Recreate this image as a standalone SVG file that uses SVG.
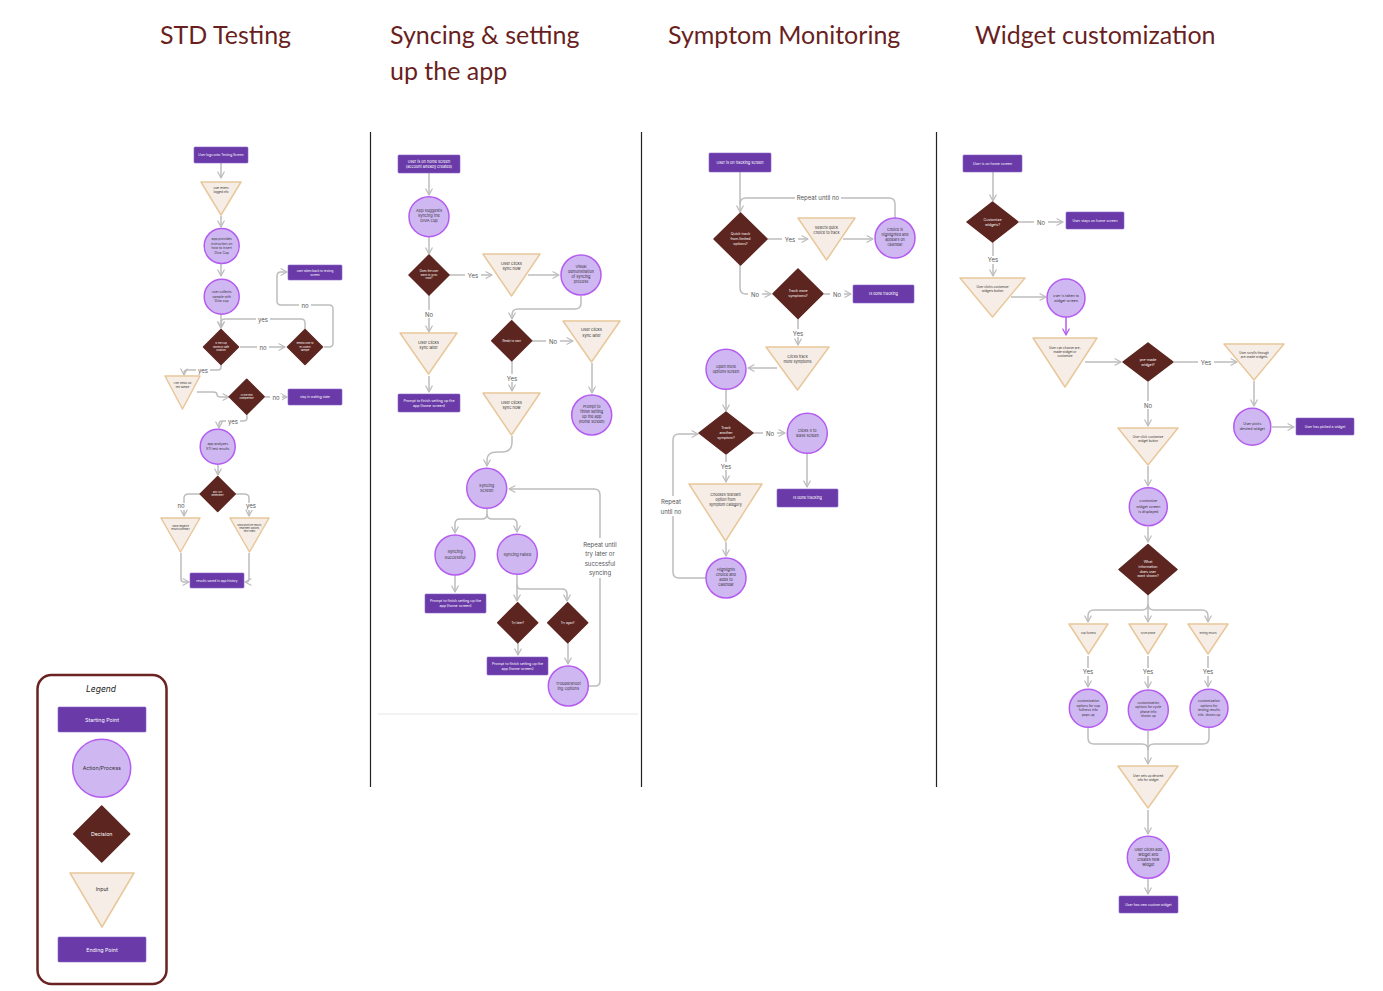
<svg xmlns="http://www.w3.org/2000/svg" width="1383" height="991" viewBox="0 0 1383 991">
<defs>
<marker id="ah" viewBox="0 0 10 10" refX="8.5" refY="5" markerWidth="8" markerHeight="8" markerUnits="userSpaceOnUse" orient="auto"><path d="M1,1 L8.5,5 L1,9" fill="none" stroke="#bdbdbd" stroke-width="1.6" stroke-linecap="round" stroke-linejoin="round"/></marker>
<marker id="ahp" viewBox="0 0 10 10" refX="8.5" refY="5" markerWidth="8" markerHeight="8" markerUnits="userSpaceOnUse" orient="auto"><path d="M1,1 L8.5,5 L1,9" fill="none" stroke="#b45cf0" stroke-width="1.6" stroke-linecap="round" stroke-linejoin="round"/></marker>
<style>
.ttl{font-family:Lato,"Noto Sans",sans-serif;font-size:25px;fill:#6a1f1f}
.st{fill:#6a3aa8;stroke:#8a64c8;stroke-width:0.6}
.ac{fill:#cfb8f2;stroke:#b45cf0;stroke-width:1.5}
.de{fill:#5c2520;stroke:#5c2520;stroke-width:1.5;stroke-linejoin:round}
.in{fill:#f6ede6;stroke:#e8c89a;stroke-width:1.5;stroke-linejoin:round}
.cn path{fill:none;stroke:#bdbdbd;stroke-width:1.5;marker-end:url(#ah)}
.cn path.nm{marker-end:none}
.cn path.pp{stroke:#b45cf0;marker-end:url(#ahp)}
text{font-family:Inter,"Liberation Sans",sans-serif;text-anchor:middle}
.w{fill:#ffffff}
.d{fill:#333333}
.lb{font-size:6px;fill:#555555}
.lb2{font-size:5.5px;fill:#666666}
.bg{fill:#ffffff}
</style>
</defs>
<rect width="1383" height="991" fill="#ffffff"/>

<g id="titles">
<text class="ttl" x="160" y="44" style="text-anchor:start">STD Testing</text>
<text class="ttl" x="390" y="44" style="text-anchor:start">Syncing &amp; setting</text>
<text class="ttl" x="390" y="80" style="text-anchor:start">up the app</text>
<text class="ttl" x="668" y="44" style="text-anchor:start">Symptom Monitoring</text>
<text class="ttl" x="975" y="44" style="text-anchor:start">Widget customization</text>
</g>

<g id="dividers" stroke="#222" stroke-width="1.2">
<line x1="370.5" y1="132" x2="370.5" y2="787"/>
<line x1="641.5" y1="132" x2="641.5" y2="787"/>
<line x1="936.5" y1="132" x2="936.5" y2="787"/>
<line x1="378" y1="714" x2="638" y2="714" stroke="#eeeeee" stroke-width="1.5"/>
</g>

<g id="connectors" class="cn">
<!-- STD -->
<path d="M221,163 V178"/>
<path d="M221,216 V227"/>
<path d="M221,264 V276"/>
<path d="M221,314 V328"/>
<path d="M305,329 V323 Q305,319 301,319 H225 Q221,319 221,323 V328"/>
<path d="M240,347 H285"/>
<path d="M324,347 H329 Q333,347 333,343 V309 Q333,305 329,305 H281 Q277,305 277,301 V276 Q277,272 281,272 H287"/>
<path d="M221,365 V367 Q221,370 218,370 H187 Q184,370 184,373 V375"/>
<path d="M197,392 H213 Q217,392 217,394.5 Q217,397 221,397 H229"/>
<path d="M265,397 H287"/>
<path d="M247,415 V418 Q247,421 243,421 H222 Q219,421 219,424 V428"/>
<path d="M218,465 V475"/>
<path d="M200,494 H189 Q184,494 184,498 V516"/>
<path d="M235,494 H244 Q249,494 249,498 V516"/>
<path d="M181,553 V579 Q181,582 184,582 H189"/>
<path d="M249,553 V579 Q249,582 246,582 H245"/>
<!-- Syncing -->
<path d="M429,173 V195"/>
<path d="M429,237 V254"/>
<path d="M449,275 H492"/>
<path d="M528,275 H559"/>
<path d="M581,296 V303 Q581,309 575,309 H518 Q512,309 512,315 V319"/>
<path d="M532,341 H573"/>
<path d="M592,363 V393"/>
<path d="M512,361 V391"/>
<path d="M429,295 V332"/>
<path d="M429,376 V392"/>
<path d="M512,436 V442 Q512,452 502,452 H497 Q487,452 487,460 V466"/>
<path d="M487,508 V514 Q487,519 482,519 H460 Q455,519 455,524 V533"/>
<path d="M487,514 Q487,519 492,519 H512 Q517,519 517,524 V532"/>
<path d="M455,575 V592"/>
<path d="M517,575 V601"/>
<path d="M517,585 Q517,589 521,589 H562 Q567,589 567,594 V601"/>
<path d="M518,643 V655"/>
<path d="M568,643 V664"/>
<path d="M588,686 H595 Q600,686 600,681 V495 Q600,489 594,489 H509"/>
<!-- Symptom -->
<path d="M740,172 V212"/>
<path class="nm" d="M895,218 V204 Q895,198 889,198 H746 Q740,198 740,204"/>
<path d="M767,239 H808"/>
<path d="M843,239 H873"/>
<path d="M740,265 V288 Q740,294 746,294 H771"/>
<path d="M824,294 H851"/>
<path d="M798,319 V345"/>
<path d="M777,368 H748"/>
<path d="M726,390 V411"/>
<path d="M752,433 H785"/>
<path d="M807,454 V487"/>
<path d="M726,455 V482"/>
<path d="M726,542 V556"/>
<path d="M706,578 H679 Q673,578 673,572 V440 Q673,434 679,434 H698"/>
<!-- Widget -->
<path d="M993,172 V201"/>
<path d="M1019,222 H1063"/>
<path d="M993,242 V276"/>
<path d="M1011,297 H1046"/>
<path class="pp" d="M1066,317 V335"/>
<path d="M1085,362 H1121"/>
<path d="M1174,362 H1237"/>
<path d="M1254,381 V406"/>
<path d="M1272,427 H1294"/>
<path d="M1148,382 V426"/>
<path d="M1148,466 V486"/>
<path d="M1148,527 V542"/>
<path d="M1148,595 V604 Q1148,610 1142,610 H1094 Q1088,610 1088,616 V622"/>
<path d="M1148,604 V622"/>
<path d="M1148,604 Q1148,610 1154,610 H1202 Q1208,610 1208,616 V622"/>
<path d="M1088,656 V687"/>
<path d="M1148,656 V688"/>
<path d="M1208,656 V687"/>
<path d="M1088,728 V738 Q1088,744 1094,744 H1142 Q1148,744 1148,750 V764"/>
<path class="nm" d="M1148,731 V750"/>
<path class="nm" d="M1209,728 V738 Q1209,744 1203,744 H1154 Q1148,744 1148,750"/>
<path d="M1148,810 V834"/>
<path d="M1148,879 V894"/>
</g>

<g id="labels">
<rect class="bg" x="256" y="316" width="14" height="7"/><text class="lb" x="263" y="321.5">yes</text>
<rect class="bg" x="257" y="344" width="12" height="7"/><text class="lb" x="263" y="349.5">no</text>
<rect class="bg" x="299" y="302" width="12" height="7"/><text class="lb" x="305" y="307.5">no</text>
<rect class="bg" x="196" y="367" width="14" height="7"/><text class="lb" x="203" y="372.5">yes</text>
<rect class="bg" x="270" y="394" width="12" height="7"/><text class="lb" x="276" y="399.5">no</text>
<rect class="bg" x="226" y="418" width="14" height="7"/><text class="lb" x="233" y="423.5">yes</text>
<rect class="bg" x="176" y="503" width="10" height="7"/><text class="lb" x="181" y="508">no</text>
<rect class="bg" x="244" y="503" width="13" height="7"/><text class="lb" x="251" y="508">yes</text>

<rect class="bg" x="465" y="271" width="16" height="8"/><text class="lb" x="473" y="277.5">Yes</text>
<rect class="bg" x="546" y="337" width="14" height="8"/><text class="lb" x="553" y="343.5">No</text>
<rect class="bg" x="504" y="374" width="16" height="8"/><text class="lb" x="512" y="380.5">Yes</text>
<rect class="bg" x="422" y="310" width="14" height="8"/><text class="lb" x="429" y="316.5">No</text>
<rect class="bg" x="580" y="538" width="40" height="40"/>
<text class="lb" x="600" y="546.5">Repeat until</text>
<text class="lb" x="600" y="556">try later or</text>
<text class="lb" x="600" y="565.5">successful</text>
<text class="lb" x="600" y="575">syncing</text>

<rect class="bg" x="795" y="194" width="46" height="8"/><text class="lb" x="818" y="200">Repeat until no</text>
<rect class="bg" x="782" y="235" width="16" height="8"/><text class="lb" x="790" y="241.5">Yes</text>
<rect class="bg" x="748" y="290" width="14" height="8"/><text class="lb" x="755" y="296.5">No</text>
<rect class="bg" x="830" y="290" width="14" height="8"/><text class="lb" x="837" y="296.5">No</text>
<rect class="bg" x="790" y="329" width="16" height="8"/><text class="lb" x="798" y="335.5">Yes</text>
<rect class="bg" x="763" y="429" width="14" height="8"/><text class="lb" x="770" y="435.5">No</text>
<rect class="bg" x="718" y="462" width="16" height="8"/><text class="lb" x="726" y="468.5">Yes</text>
<rect class="bg" x="658" y="496" width="26" height="20"/>
<text class="lb" x="671" y="504">Repeat</text>
<text class="lb" x="671" y="513.5">until no</text>

<rect class="bg" x="1034" y="218" width="14" height="8"/><text class="lb" x="1041" y="224.5">No</text>
<rect class="bg" x="985" y="256" width="16" height="8"/><text class="lb" x="993" y="262">Yes</text>
<rect class="bg" x="1198" y="358" width="16" height="8"/><text class="lb" x="1206" y="364.5">Yes</text>
<rect class="bg" x="1141" y="401" width="14" height="8"/><text class="lb" x="1148" y="407.5">No</text>
<rect class="bg" x="1080" y="668" width="16" height="8"/><text class="lb" x="1088" y="674">Yes</text>
<rect class="bg" x="1140" y="668" width="16" height="8"/><text class="lb" x="1148" y="674">Yes</text>
<rect class="bg" x="1200" y="668" width="16" height="8"/><text class="lb" x="1208" y="674">Yes</text>
</g>

<!-- STD Testing nodes -->
<g id="std-start"><rect class="st" x="194" y="147" width="54" height="16" rx="1"/><text class="w" font-size="3.2" x="221" y="156">User logs onto Testing Screen</text></g>
<g id="std-in1"><path class="in" d="M201,182 H241 L221,215 Z"/><text class="d" font-size="2.8" x="221" y="189">user enters</text><text class="d" font-size="2.8" x="221" y="192.5">logged info</text></g>
<g id="std-a1"><circle class="ac" cx="221.7" cy="246" r="17.5"/><text class="d" font-size="3.3"><tspan x="221.7" y="240">app provides</tspan><tspan x="221.7" y="244.5">instruction on</tspan><tspan x="221.7" y="249">how to insert</tspan><tspan x="221.7" y="253.5">Diva Cup</tspan></text></g>
<g id="std-a2"><circle class="ac" cx="221.7" cy="296.7" r="17.5"/><text class="d" font-size="3.3"><tspan x="221.7" y="293">user collects</tspan><tspan x="221.7" y="297.5">sample with</tspan><tspan x="221.7" y="302">Diva cup</tspan></text></g>
<g id="std-d1"><polygon class="de" points="221,329.5 238.5,347 221,364.5 203.5,347"/><text class="w" font-size="2.5"><tspan x="221" y="344">Is the cup</tspan><tspan x="221" y="347.5">stored in safe</tspan><tspan x="221" y="351">location</tspan></text></g>
<g id="std-d2"><polygon class="de" points="305,329.5 322.5,347 305,364.5 287.5,347"/><text class="w" font-size="2.5"><tspan x="305" y="344">remind user to</tspan><tspan x="305" y="347.5">re-collect</tspan><tspan x="305" y="351">sample</tspan></text></g>
<g id="std-back"><rect class="st" x="288" y="265" width="54" height="15" rx="1"/><text class="w" font-size="3"><tspan x="315" y="271.5">user taken back to testing</tspan><tspan x="315" y="275.5">screen</tspan></text></g>
<g id="std-in2"><path class="in" d="M165,376 H200 L182.5,409 Z"/><text class="d" font-size="2.5"><tspan x="182.5" y="384">User sends out</tspan><tspan x="182.5" y="387.5">test sample</tspan></text></g>
<g id="std-d3"><polygon class="de" points="246.7,379.2 264.2,396.7 246.7,414.2 229.2,396.7"/><text class="w" font-size="2.6"><tspan x="246.7" y="395.5">Is the test</tspan><tspan x="246.7" y="399">completed?</tspan></text></g>
<g id="std-wait"><rect class="st" x="288" y="389" width="54" height="16" rx="1"/><text class="w" font-size="3.2" x="315" y="398">stay in waiting state</text></g>
<g id="std-a3"><circle class="ac" cx="217.7" cy="446.7" r="17.5"/><text class="d" font-size="3.3"><tspan x="217.7" y="445">app analyzes</tspan><tspan x="217.7" y="449.5">STI test results</tspan></text></g>
<g id="std-d4"><polygon class="de" points="217.7,476.5 235.2,494 217.7,511.5 200.2,494"/><text class="w" font-size="2.6"><tspan x="217.7" y="492.8">any STI</tspan><tspan x="217.7" y="496.3">detected?</tspan></text></g>
<g id="std-in3"><path class="in" d="M161,518 H200 L180.5,552 Z"/><text class="d" font-size="2.4"><tspan x="180.5" y="527">Show negative</tspan><tspan x="180.5" y="530">results summary</tspan></text></g>
<g id="std-in4"><path class="in" d="M230,518 H269 L249.5,552 Z"/><text class="d" font-size="2.4"><tspan x="249.5" y="526">Show positive results,</tspan><tspan x="249.5" y="529">treatment options,</tspan><tspan x="249.5" y="532">next steps</tspan></text></g>
<g id="std-end"><rect class="st" x="190" y="573" width="54" height="15" rx="1"/><text class="w" font-size="3.2" x="217" y="581.5">results saved in app history</text></g>

<!-- Syncing nodes -->
<g id="sy-start"><rect class="st" x="398" y="155" width="62" height="18" rx="1"/><text class="w" font-size="3.8"><tspan x="429" y="162.5">User is on home screen</tspan><tspan x="429" y="167.5">(account already created)</tspan></text></g>
<g id="sy-a1"><circle class="ac" cx="429" cy="216.7" r="20"/><text class="d" font-size="4"><tspan x="429" y="212">App suggests</tspan><tspan x="429" y="217">syncing the</tspan><tspan x="429" y="222">DIVA cup</tspan></text></g>
<g id="sy-d1"><polygon class="de" points="429,255 449,275 429,295 409,275"/><text class="w" font-size="2.8"><tspan x="429" y="272">Does the user</tspan><tspan x="429" y="275.5">want to sync</tspan><tspan x="429" y="279">now?</tspan></text></g>
<g id="sy-in1"><path class="in" d="M483,254 H540 L511.5,296 Z"/><text class="d" font-size="4"><tspan x="511.5" y="264.5">User clicks</tspan><tspan x="511.5" y="270">sync now</tspan></text></g>
<g id="sy-a2"><circle class="ac" cx="581" cy="275" r="20"/><text class="d" font-size="3.8"><tspan x="581" y="268">Visual</tspan><tspan x="581" y="273">demonstration</tspan><tspan x="581" y="278">of syncing</tspan><tspan x="581" y="283">process</tspan></text></g>
<g id="sy-d2"><polygon class="de" points="511.7,320.7 531.7,340.7 511.7,360.7 491.7,340.7"/><text class="w" font-size="2.8" x="511.7" y="341.7">Ready to start</text></g>
<g id="sy-in2"><path class="in" d="M563,321 H620 L591.5,362 Z"/><text class="d" font-size="4"><tspan x="591.5" y="331">User clicks</tspan><tspan x="591.5" y="336.5">sync later</tspan></text></g>
<g id="sy-a3"><circle class="ac" cx="591.7" cy="415" r="20"/><text class="d" font-size="3.8"><tspan x="591.7" y="408">Prompt to</tspan><tspan x="591.7" y="413">finish setting</tspan><tspan x="591.7" y="418">up the app</tspan><tspan x="591.7" y="423">(home screen)</tspan></text></g>
<g id="sy-in3"><path class="in" d="M483,393 H540 L511.5,435 Z"/><text class="d" font-size="4"><tspan x="511.5" y="403.5">User clicks</tspan><tspan x="511.5" y="409">sync now</tspan></text></g>
<g id="sy-in4"><path class="in" d="M400,333 H457 L428.5,374 Z"/><text class="d" font-size="4"><tspan x="428.5" y="343.5">User clicks</tspan><tspan x="428.5" y="349">sync later</tspan></text></g>
<g id="sy-end1"><rect class="st" x="398" y="394" width="62" height="18" rx="1"/><text class="w" font-size="3.6"><tspan x="429" y="401.5">Prompt to finish setting up the</tspan><tspan x="429" y="406.5">app (home screen)</tspan></text></g>
<g id="sy-a4"><circle class="ac" cx="486.7" cy="488.3" r="20"/><text class="d" font-size="4"><tspan x="486.7" y="486.5">Syncing</tspan><tspan x="486.7" y="492">Screen</tspan></text></g>
<g id="sy-a5"><circle class="ac" cx="455" cy="555" r="20"/><text class="d" font-size="4"><tspan x="455" y="553">Syncing</tspan><tspan x="455" y="558.5">Successful</tspan></text></g>
<g id="sy-a6"><circle class="ac" cx="517.3" cy="554.3" r="20"/><text class="d" font-size="4" x="517.3" y="555.5">Syncing Failed</text></g>
<g id="sy-end2"><rect class="st" x="425" y="594" width="61" height="19" rx="1"/><text class="w" font-size="3.6"><tspan x="455.5" y="601.5">Prompt to finish setting up the</tspan><tspan x="455.5" y="606.5">app (home screen)</tspan></text></g>
<g id="sy-d3"><polygon class="de" points="517.7,602.7 537.7,622.7 517.7,642.7 497.7,622.7"/><text class="w" font-size="2.8" x="517.7" y="623.7">Try later?</text></g>
<g id="sy-d4"><polygon class="de" points="567.7,602.7 587.7,622.7 567.7,642.7 547.7,622.7"/><text class="w" font-size="2.8" x="567.7" y="623.7">Try again?</text></g>
<g id="sy-end3"><rect class="st" x="487" y="657" width="61" height="18" rx="1"/><text class="w" font-size="3.6"><tspan x="517.5" y="664.5">Prompt to finish setting up the</tspan><tspan x="517.5" y="669.5">app (home screen)</tspan></text></g>
<g id="sy-a7"><circle class="ac" cx="568.3" cy="686" r="20"/><text class="d" font-size="4"><tspan x="568.3" y="684.5">Troubleshoot</tspan><tspan x="568.3" y="690">ing Options</tspan></text></g>

<!-- Symptom nodes -->
<g id="sm-start"><rect class="st" x="709" y="153" width="62" height="19" rx="1"/><text class="w" font-size="3.8" x="740" y="163.8">User is on tracking screen</text></g>
<g id="sm-d1"><polygon class="de" points="740.5,213 767,239 740.5,265 714,239"/><text class="w" font-size="3.6"><tspan x="740.5" y="235">Quick track</tspan><tspan x="740.5" y="239.8">from limited</tspan><tspan x="740.5" y="244.6">options?</tspan></text></g>
<g id="sm-in1"><path class="in" d="M798,218 H855 L826.5,260 Z"/><text class="d" font-size="3.7"><tspan x="826.5" y="229">Selects quick</tspan><tspan x="826.5" y="234">choice to track</tspan></text></g>
<g id="sm-a1"><circle class="ac" cx="895" cy="238" r="20"/><text class="d" font-size="3.7"><tspan x="895" y="231">Choice is</tspan><tspan x="895" y="236">highlighted and</tspan><tspan x="895" y="241">appears on</tspan><tspan x="895" y="246">calendar</tspan></text></g>
<g id="sm-d2"><polygon class="de" points="798,269 823,293.7 798,318.4 773,293.7"/><text class="w" font-size="3.6"><tspan x="798" y="292">Track more</tspan><tspan x="798" y="297">symptoms?</tspan></text></g>
<g id="sm-end1"><rect class="st" x="853" y="285" width="61" height="18" rx="1"/><text class="w" font-size="3.8" x="883.5" y="295.3">Is done tracking</text></g>
<g id="sm-in2"><path class="in" d="M766,347 H829 L797.5,390 Z"/><text class="d" font-size="3.7"><tspan x="797.5" y="357.5">Clicks track</tspan><tspan x="797.5" y="362.5">more symptoms</tspan></text></g>
<g id="sm-a2"><circle class="ac" cx="726" cy="369.3" r="20"/><text class="d" font-size="3.8"><tspan x="726" y="367.5">Open more</tspan><tspan x="726" y="373">options screen</tspan></text></g>
<g id="sm-d3"><polygon class="de" points="726,412 753,433 726,454 699,433"/><text class="w" font-size="3.6"><tspan x="726" y="428.5">Track</tspan><tspan x="726" y="433.5">another</tspan><tspan x="726" y="438.5">symptom?</tspan></text></g>
<g id="sm-a3"><circle class="ac" cx="807.3" cy="433.3" r="20"/><text class="d" font-size="3.8"><tspan x="807.3" y="431.5">clicks X to</tspan><tspan x="807.3" y="437">leave screen</tspan></text></g>
<g id="sm-end2"><rect class="st" x="777" y="489" width="61" height="18" rx="1"/><text class="w" font-size="3.8" x="807.5" y="499.3">Is done tracking</text></g>
<g id="sm-in3"><path class="in" d="M689,484 H762 L725.5,541 Z"/><text class="d" font-size="3.7"><tspan x="725.5" y="495.5">Chooses relevant</tspan><tspan x="725.5" y="500.5">option from</tspan><tspan x="725.5" y="505.5">symptom category</tspan></text></g>
<g id="sm-a4"><circle class="ac" cx="726" cy="578" r="20"/><text class="d" font-size="3.8"><tspan x="726" y="571">Highlights</tspan><tspan x="726" y="576">choice and</tspan><tspan x="726" y="581">adds to</tspan><tspan x="726" y="586">calendar</tspan></text></g>

<!-- Widget nodes -->
<g id="wg-start"><rect class="st" x="963" y="155" width="59" height="17" rx="1"/><text class="w" font-size="3.5" x="992.5" y="164.7">User is on home screen</text></g>
<g id="wg-d1"><polygon class="de" points="992.5,202 1018,222 992.5,242 967,222"/><text class="w" font-size="3.6"><tspan x="992.5" y="220.5">Customize</tspan><tspan x="992.5" y="225.5">widgets?</tspan></text></g>
<g id="wg-stay"><rect class="st" x="1066" y="212" width="58" height="17" rx="1"/><text class="w" font-size="3.5" x="1095" y="221.7">User stays on home screen</text></g>
<g id="wg-in1"><path class="in" d="M960,278 H1025 L992.5,317 Z"/><text class="d" font-size="3.1"><tspan x="992.5" y="288">User clicks customize</tspan><tspan x="992.5" y="292">widgets button</tspan></text></g>
<g id="wg-a1"><circle class="ac" cx="1066" cy="298" r="19"/><text class="d" font-size="3.6"><tspan x="1066" y="296.5">user is taken to</tspan><tspan x="1066" y="301.5">widget screen</tspan></text></g>
<g id="wg-in2"><path class="in" d="M1033,338 H1097 L1065,387 Z"/><text class="d" font-size="3.1"><tspan x="1065" y="348.5">User can choose pre-</tspan><tspan x="1065" y="352.5">made widget or</tspan><tspan x="1065" y="356.5">customize</tspan></text></g>
<g id="wg-d2"><polygon class="de" points="1148,343 1173,362 1148,381 1123,362"/><text class="w" font-size="3.6"><tspan x="1148" y="360.5">pre-made</tspan><tspan x="1148" y="365.5">widget?</tspan></text></g>
<g id="wg-in3"><path class="in" d="M1224,344 H1284 L1254,380 Z"/><text class="d" font-size="3.1"><tspan x="1254" y="353.5">User scrolls through</tspan><tspan x="1254" y="357.5">pre-made widgets</tspan></text></g>
<g id="wg-a2"><circle class="ac" cx="1252.3" cy="426.7" r="18.5"/><text class="d" font-size="3.6"><tspan x="1252.3" y="425">User picks</tspan><tspan x="1252.3" y="430">desired widget</tspan></text></g>
<g id="wg-end1"><rect class="st" x="1296" y="418" width="58" height="17" rx="1"/><text class="w" font-size="3.4" x="1325" y="427.7">User has picked a widget</text></g>
<g id="wg-in4"><path class="in" d="M1118,428 H1178 L1148,465 Z"/><text class="d" font-size="3.1"><tspan x="1148" y="437.5">User click customize</tspan><tspan x="1148" y="441.5">widget button</tspan></text></g>
<g id="wg-a3"><circle class="ac" cx="1148.3" cy="506.7" r="19"/><text class="d" font-size="3.6"><tspan x="1148.3" y="502">customize</tspan><tspan x="1148.3" y="507.5">widget screen</tspan><tspan x="1148.3" y="513">is displayed</tspan></text></g>
<g id="wg-d3"><polygon class="de" points="1148,544.5 1177,569.5 1148,594.5 1119,569.5"/><text class="w" font-size="3.5"><tspan x="1148" y="563">What</tspan><tspan x="1148" y="567.8">information</tspan><tspan x="1148" y="572.6">does user</tspan><tspan x="1148" y="577.4">want shown?</tspan></text></g>
<g id="wg-in5"><path class="in" d="M1069,624 H1108 L1088.5,654 Z"/><text class="d" font-size="2.6" x="1088.5" y="634">cup fullness</text></g>
<g id="wg-in6"><path class="in" d="M1129,624 H1167 L1148,654 Z"/><text class="d" font-size="2.6" x="1148" y="634">cycle phase</text></g>
<g id="wg-in7"><path class="in" d="M1188,624 H1228 L1208,654 Z"/><text class="d" font-size="2.6" x="1208" y="634">testing results</text></g>
<g id="wg-a4"><circle class="ac" cx="1088.3" cy="708.3" r="19"/><text class="d" font-size="3.3"><tspan x="1088.3" y="702">customization</tspan><tspan x="1088.3" y="706.5">options for cup</tspan><tspan x="1088.3" y="711">fullness info</tspan><tspan x="1088.3" y="715.5">pops up</tspan></text></g>
<g id="wg-a5"><circle class="ac" cx="1148.3" cy="710" r="20"/><text class="d" font-size="3.3"><tspan x="1148.3" y="703.5">customization</tspan><tspan x="1148.3" y="708">options for cycle</tspan><tspan x="1148.3" y="712.5">phase info</tspan><tspan x="1148.3" y="717">shows up</tspan></text></g>
<g id="wg-a6"><circle class="ac" cx="1209" cy="708.3" r="19"/><text class="d" font-size="3.3"><tspan x="1209" y="702">customization</tspan><tspan x="1209" y="706.5">options for</tspan><tspan x="1209" y="711">testing results</tspan><tspan x="1209" y="715.5">info. shows up</tspan></text></g>
<g id="wg-in8"><path class="in" d="M1118,766 H1178 L1148,808 Z"/><text class="d" font-size="3.1"><tspan x="1148" y="777">User sets up desired</tspan><tspan x="1148" y="781">info for widget</tspan></text></g>
<g id="wg-a7"><circle class="ac" cx="1148.3" cy="857.3" r="21"/><text class="d" font-size="3.8"><tspan x="1148.3" y="850.5">User clicks add</tspan><tspan x="1148.3" y="855.5">widget and</tspan><tspan x="1148.3" y="860.5">creates new</tspan><tspan x="1148.3" y="865.5">widget</tspan></text></g>
<g id="wg-end2"><rect class="st" x="1119" y="896" width="59" height="17" rx="1"/><text class="w" font-size="3.4" x="1148.5" y="905.7">User has new custom widget</text></g>

<!-- Legend -->
<g id="legend">
<rect x="37.5" y="675" width="129" height="309" rx="14" fill="#ffffff" stroke="#6a2222" stroke-width="2.5"/>
<text x="101" y="692" font-size="8.5" font-style="italic" fill="#222">Legend</text>
<rect class="st" x="58" y="707" width="88" height="25" rx="1"/><text class="w" font-size="5.3" x="102" y="721.5">Starting Point</text>
<circle class="ac" cx="101.7" cy="768.3" r="29" stroke-width="1.8"/><text class="d" font-size="5.3" x="101.7" y="770">Action/Process</text>
<polygon class="de" points="101.7,806 129.7,834 101.7,862 73.7,834" stroke-width="2"/><text class="w" font-size="5.3" x="101.7" y="835.8">Decision</text>
<path class="in" d="M70,873 H134 L102,927 Z" stroke-width="2"/><text class="d" font-size="5.3" x="102" y="890.5">Input</text>
<rect class="st" x="58" y="937" width="88" height="25" rx="1"/><text class="w" font-size="5.3" x="102" y="951.5">Ending Point</text>
</g>
</svg>
